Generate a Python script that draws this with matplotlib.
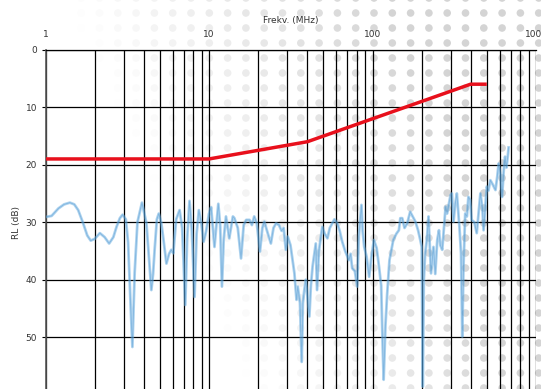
import numpy as np
import matplotlib
matplotlib.use("Agg")
import matplotlib.pyplot as plt

# ---- data ----
limit_freq = [1, 10, 40, 398, 500]
limit_rl = [19.0, 19.0, 16.0, 6.0, 6.0]

meas_freq = [1.00, 1.09, 1.20, 1.30, 1.41, 1.50, 1.585, 1.70, 1.80, 1.89, 2.00, 2.15, 2.30, 2.45, 2.60,
             2.72, 2.85, 2.96, 3.10, 3.20, 3.30, 3.40, 3.51, 3.65, 3.89, 4.14, 4.30, 4.44, 4.55, 4.65,
             4.80, 4.93, 5.10, 5.24, 5.49, 5.70, 5.88, 6.05, 6.30, 6.61, 6.85, 7.16, 7.35, 7.60, 7.85,
             8.16, 8.40, 8.67, 9.00, 9.27, 9.60, 10.0, 10.3, 10.8, 11.4, 11.7, 12.0, 12.3, 12.7, 13.3,
             14.0, 14.3, 15.0, 15.7, 16.3, 16.9, 17.7, 18.3, 18.9, 19.6, 20.5, 21.2, 21.8, 22.8, 23.9,
             24.8, 25.7, 26.8, 27.8, 28.6, 29.5, 30.3, 31.5, 33.3, 34.3, 34.9, 36.0, 36.9, 37.5, 38.2,
             39.1, 40.0, 41.1, 42.0, 43.0, 45.0, 45.8, 47.0, 49.3, 51.0, 53.0, 54.8, 56.7, 58.5, 60.9,
             63.0, 65.3, 68.0, 71.7, 73.5, 75.1, 78.0, 80.6, 82.5, 85.6, 87.0, 89.0, 92.0, 95.4, 98.5,
             102, 106, 109.6, 113, 115, 117, 120, 123, 127, 134, 140, 145, 148, 152, 157,
             163, 170, 176, 183, 190, 196, 200, 203, 206, 210, 215, 220, 228, 236, 242,
             249, 255, 260, 267, 273, 280, 286, 300, 306, 313, 320, 328, 340, 348, 354,
             360, 369, 378, 386, 395, 404, 420, 434, 457, 470, 478, 490, 500, 512, 526,
             545, 565, 580, 591, 605, 620, 635, 647, 660, 675, 680]
meas_rl = [29.1, 28.9, 27.6, 26.9, 26.6, 26.9, 27.9, 30.2, 32.3, 33.2, 32.9, 31.9, 32.6, 33.7, 32.6,
           30.8, 29.3, 28.7, 29.5, 33.5, 43.0, 51.7, 38.8, 30.0, 26.6, 30.1, 36.5, 41.8, 39.0, 34.8,
           29.5, 28.5, 30.0, 32.5, 37.2, 35.5, 34.8, 35.4, 29.5, 27.9, 31.0, 44.4, 33.0, 26.3, 31.5,
           43.0, 32.0, 27.9, 30.5, 33.4, 31.6, 28.5, 27.4, 34.3, 26.8, 30.5, 41.2, 33.0, 29.0, 32.8,
           29.0, 29.3, 31.0, 36.3, 30.5, 29.6, 29.6, 30.5, 29.0, 30.2, 35.1, 31.0, 29.9, 31.8, 33.7,
           31.0, 30.2, 30.5, 31.5, 31.0, 34.8, 32.5, 34.0, 38.9, 43.5, 41.2, 44.0, 54.3, 44.1, 42.0,
           40.0, 43.0, 46.4, 41.0, 37.7, 33.7, 41.8, 35.0, 30.8, 32.0, 32.8, 31.0, 30.2, 29.5, 30.2,
           31.5, 33.4, 35.0, 36.6, 35.5, 38.0, 38.5, 41.2, 32.5, 27.0, 31.5, 34.3, 36.0, 39.5, 36.0,
           33.1, 34.5, 37.7, 41.0, 49.9, 57.4, 48.0, 42.4, 36.6, 33.1, 32.0, 31.4, 29.3, 29.3, 31.0,
           30.2, 28.2, 29.0, 29.9, 31.4, 33.1, 34.3, 58.6, 40.0, 35.4, 33.1, 29.0, 38.9, 34.3, 39.0,
           33.1, 31.4, 34.0, 34.8, 31.4, 27.3, 28.5, 25.3, 25.0, 29.9, 27.0, 25.0, 30.8, 35.4, 49.9,
           38.0, 28.5, 29.0, 25.6, 26.1, 29.6, 30.0, 31.9, 25.0, 27.5, 31.4, 27.3, 23.8, 24.5, 22.7,
           23.5, 24.4, 22.0, 19.8, 21.5, 25.6, 21.0, 18.6, 20.5, 18.0, 17.0]

x_ticks = [1, 10, 100, 1000]
x_tick_labels = ["1", "10", "100", "1000"]
y_ticks = [0, 10, 20, 30, 40, 50, 60]

W, H = 541, 389
fig = plt.figure(figsize=(W / 100, H / 100), dpi=100)
fig.patch.set_facecolor("white")

# decorative halftone dots in the background (figure pixel coords)
gx = np.arange(8, W + 10, 18.3)
gy = np.arange(-2, H + 10, 15.0)
XX, YY = np.meshgrid(gx, gy)
XX = XX.ravel(); YY = YY.ravel()
w = np.clip((XX - 70) / 330.0 - (YY - 20) / 700.0, 0, 1)
w = np.clip(w + np.clip((XX - 380) / 200.0, 0, 1) * 0.3 * (YY / H), 0, 1)
gray = 1 - 0.17 * w
cols = np.stack([gray, gray, gray], axis=1)
bg = fig.add_axes([0, 0, 1, 1], zorder=0)
bg.set_xlim(0, W); bg.set_ylim(H, 0)
bg.axis("off")
m = w > 0.02
bg.scatter(XX[m], YY[m], s=30, c=cols[m], edgecolors="none")

left = 45.5 / W
right = 536.0 / W
top = 1 - 49.7 / H
bottom = 1 - 394.7 / H
ax = fig.add_axes([left, bottom, right - left, top - bottom], zorder=1)
ax.patch.set_alpha(0)

ax.set_xscale("log")
ax.set_xlim(1, 1000)
ax.set_ylim(60, 0)

ax.plot(meas_freq, meas_rl, color="#6aaee0", lw=2.0, alpha=0.55, zorder=3, solid_joinstyle="round")
ax.plot(meas_freq, meas_rl, color="#2a7fc4", lw=0.6, alpha=0.35, zorder=3)
ax.plot(limit_freq, limit_rl, color="#e8101c", lw=2.5, zorder=4, solid_capstyle="butt")

ax.xaxis.tick_top()
ax.set_xticks(x_ticks)
ax.set_xticklabels(x_tick_labels)
ax.set_xticks([k * d for d in (1, 10, 100) for k in range(2, 10)], minor=True)
ax.xaxis.set_minor_formatter(matplotlib.ticker.NullFormatter())
ax.tick_params(axis="x", which="both", length=0, pad=8, labelsize=6.5, colors="#333333")
ax.set_yticks(y_ticks)
ax.tick_params(axis="y", length=3, width=0.8, pad=3, labelsize=6.5, colors="#333333")
ax.tick_params(axis="y", color="black")

ax.grid(True, which="both", axis="x", color="black", lw=0.9, zorder=1)
ax.grid(True, which="major", axis="y", color="black", lw=0.9, zorder=1)
ax.set_axisbelow(True)

for s in ["bottom", "right"]:
    ax.spines[s].set_visible(False)
ax.spines["left"].set_color("#555555")
ax.spines["left"].set_linewidth(1.2)
ax.spines["top"].set_color("black")
ax.spines["top"].set_linewidth(0.9)

ax.xaxis.set_label_position("top")
ax.set_xlabel("Frekv. (MHz)", fontsize=6.5, color="#333333", labelpad=5)
ax.set_ylabel("RL (dB)", fontsize=6.5, color="#333333", labelpad=3)

fig.savefig("out.png", dpi=100)
